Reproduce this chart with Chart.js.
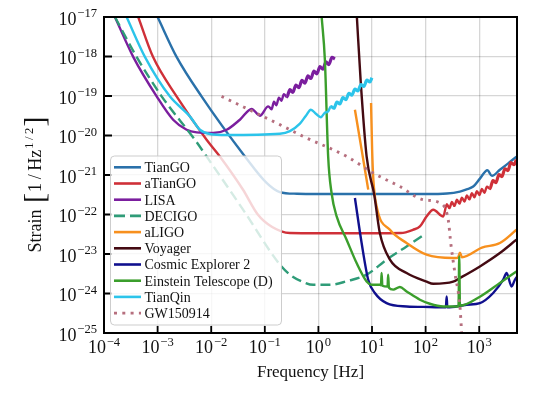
<!DOCTYPE html>
<html><head><meta charset="utf-8">
<script src="https://cdn.jsdelivr.net/npm/chart.js@4.4.0/dist/chart.umd.min.js"></script>
<style>html,body{margin:0;padding:0;background:#fff}#wrap{width:540px;height:401px}</style>
</head><body><div id="wrap"><canvas id="c" width="540" height="401"></canvas></div>
<script>
// ---------- tick values ----------
const xTickValues = [1e-4, 1e-3, 1e-2, 1e-1, 1, 10, 100, 1000];
const xTickExp = [-4, -3, -2, -1, 0, 1, 2, 3];
const yTickValues = [1e-25, 1e-24, 1e-23, 1e-22, 1e-21, 1e-20, 1e-19, 1e-18, 1e-17];
const yTickExp = [-25, -24, -23, -22, -21, -20, -19, -18, -17];

// ---------- series (frequency [Hz], strain [1/Hz^1/2]) ----------
const tianGoF = [1.0e-3, 2.26e-3, 6.6e-3, 4.26e-2, 0.108, 0.19, 0.4, 1, 10, 100, 250, 437, 582, 773, 1030, 1420, 1730, 2430, 3430, 4940];
const tianGoH = [1e-17, 9.8e-19, 9.8e-20, 2.95e-21, 6.3e-22, 3.7e-22, 3.35e-22, 3.3e-22, 3.3e-22, 3.3e-22, 3.4e-22, 3.8e-22, 4.3e-22, 5.1e-22, 8.1e-22, 1.32e-21, 9.5e-22, 1.36e-21, 1.94e-21, 2.9e-21];

const aTianGoF = [4.35e-4, 8.2e-4, 2.26e-3, 8.2e-3, 1.45e-2, 3.9e-2, 7.4e-2, 0.135, 0.294, 1, 10, 34.6, 58, 78.3, 104, 139, 213, 249, 278, 310, 344, 384, 428, 475, 530, 590, 656, 731, 813, 906, 1009, 1122, 1250, 1393, 1585, 1803, 2051, 2333, 2654, 3020, 3430, 3900, 4440, 4940];
const aTianGoH = [1e-17, 9.8e-19, 9.8e-20, 7.8e-21, 2.95e-21, 4.3e-22, 1.0e-22, 4.9e-23, 3.4e-23, 3.35e-23, 3.35e-23, 3.4e-23, 4.1e-23, 5.0e-23, 8.9e-23, 1.32e-22, 8.9e-23, 1.82e-22, 1.45e-22, 2.07e-22, 1.65e-22, 2.36e-22, 1.88e-22, 2.68e-22, 2.13e-22, 3.03e-22, 2.41e-22, 3.44e-22, 2.74e-22, 3.91e-22, 3.12e-22, 4.45e-22, 3.54e-22, 5.06e-22, 4.5e-22, 7.18e-22, 6.38e-22, 1.02e-21, 9.06e-22, 1.44e-21, 1.29e-21, 2.05e-21, 1.82e-21, 2.44e-21];

const lisaF = [1.6e-4, 3.51e-4, 9.6e-4, 1.95e-3, 3.48e-3, 5.35e-3, 1.09e-2, 1.94e-2, 3.43e-2, 5.67e-2, 8.1e-2, 0.116, 0.134, 0.148, 0.164, 0.183, 0.204, 0.227, 0.258, 0.294, 0.334, 0.380, 0.433, 0.492, 0.560, 0.637, 0.724, 0.824, 0.938, 1.067, 1.213, 1.380, 1.571, 1.787, 2.03];
const lisaH = [1e-17, 9.8e-19, 9.8e-20, 2.51e-20, 1.40e-20, 1.20e-20, 1.16e-20, 1.40e-20, 2.51e-20, 4.69e-20, 3.17e-20, 5.46e-20, 4.63e-20, 7.18e-20, 5.85e-20, 9.06e-20, 7.6e-20, 1.11e-19, 9.48e-20, 1.45e-19, 1.24e-19, 1.90e-19, 1.62e-19, 2.48e-19, 2.12e-19, 3.24e-19, 2.77e-19, 4.25e-19, 3.65e-19, 5.58e-19, 4.77e-19, 7.29e-19, 6.24e-19, 9.55e-19, 8.65e-19];

const decigoF = [1.6e-4, 4.06e-4, 1.19e-3, 4.97e-3, 8.2e-3, 3.9e-2, 0.191, 0.294, 0.5, 0.80, 1.64, 3.36, 7.94, 18.7, 44.2, 97];
const decigoH = [1e-17, 9.8e-19, 9.8e-20, 7.8e-21, 2.95e-21, 1.35e-22, 5.4e-24, 3.0e-24, 2.0e-24, 1.66e-24, 1.66e-24, 2.04e-24, 3.0e-24, 7.2e-24, 1.55e-23, 3.2e-23];

const aLigoF = [4.8, 6.4, 8.5, 9.0, 9.6, 10.05, 10.6, 12.2, 21.6, 44.2, 104, 327, 400, 437, 475, 1122, 2430, 4950];
const aLigoH = [4.5e-20, 4.4e-21, 4.25e-22, null, 6.65e-20, 4.4e-21, 7.6e-22, 1.6e-22, 4.1e-23, 1.9e-23, 9.6e-24, 7.9e-24, 8.0e-24, 1.08e-23, 8.3e-24, 1.45e-23, 1.9e-23, 4.1e-23];

const voyagerF = [5.22, 6.12, 7.93, 11.0, 14.0, 21.6, 44.2, 104, 139, 327, 437, 1030, 2430, 4950];
const voyagerH = [1e-17, 2.59e-19, 2.95e-21, 3.17e-22, 3.4e-23, 7.2e-24, 3.3e-24, 2.0e-24, 1.77e-24, 2.0e-24, 2.47e-24, 4.85e-24, 1.06e-23, 2.3e-23];

const ce2F = [4.8, 6.4, 8.5, 11.3, 18.7, 44.2, 120, 213, 239, 247, 254, 582, 1030, 1824, 2806, 3245, 4018, 4630, 5070];
const ce2H = [2.62e-22, 1.9e-23, 2.23e-24, 1.03e-24, 5.7e-25, 4.7e-25, 4.55e-25, 4.45e-25, 4.45e-25, 8.45e-25, 4.45e-25, 5.2e-25, 5.7e-25, 1.03e-24, 2.23e-24, 3.3e-24, 1.51e-24, 2.23e-24, 2.67e-24];

const etF = [1.15, 1.32, 1.52, 1.76, 2.19, 3.36, 5.16, 7.93, 9.84, 14.0, 14.7, 15.1, 15.6, 19.5, 20.0, 20.7, 24.9, 33.1, 44.2, 78.3, 120, 213, 401, 411, 424, 437, 1030, 2430, 4950];
const etH = [1e-17, 8.3e-19, 2.95e-21, 3.5e-22, 8.95e-23, 2.3e-23, 5.9e-24, 2.02e-24, 1.67e-24, 1.67e-24, 1.62e-24, 3.3e-24, 1.57e-24, 1.49e-24, 3.0e-24, 1.40e-24, 1.25e-24, 1.46e-24, 1.13e-24, 6.97e-25, 5.5e-25, 4.7e-25, 4.7e-25, 4.7e-25, 8.7e-24, 4.9e-25, 8.3e-25, 1.85e-24, 3.63e-24];

const tianQinF = [2.64e-4, 5.8e-4, 1.69e-3, 4.0e-3, 6.15e-3, 9.46e-3, 1.94e-2, 0.191, 0.294, 0.452, 0.585, 0.724, 0.898, 1.11, 1.32, 1.52, 1.71, 1.95, 2.21, 2.52, 2.86, 3.26, 3.71, 4.22, 4.80, 5.46, 6.21, 7.06, 8.03, 9.14, 9.97];
const tianQinH = [1e-17, 9.8e-19, 9.8e-20, 3.05e-20, 1.40e-20, 1.09e-20, 1.03e-20, 1.11e-20, 1.29e-20, 1.99e-20, 3.17e-20, 4.50e-20, 3.56e-20, 2.91e-20, 3.78e-20, 4.07e-20, 5.42e-20, 4.89e-20, 7.02e-20, 6.31e-20, 9.06e-20, 8.11e-20, 1.16e-19, 1.05e-19, 1.50e-19, 1.35e-19, 1.95e-19, 1.75e-19, 2.51e-19, 2.26e-19, 2.90e-19];

const gwF = [1.56e-2, 0.191, 0.52, 3.36, 10.5, 33.1, 90.2, 185, 264, 297, 352, 437, 470];
const gwH = [9.8e-20, 1.88e-20, 9.5e-21, 2.96e-21, 1.12e-21, 5.1e-22, 2.37e-22, 1.95e-22, 7.4e-23, 1.72e-23, 3.3e-24, 4.7e-25, 1e-25];

const seriesNames = ['TianGO', 'aTianGO', 'LISA', 'DECIGO', 'aLIGO', 'Voyager', 'Cosmic Explorer 2', 'Einstein Telescope (D)', 'TianQin', 'GW150914'];

// ---------- styles ----------
const series = [
  {name: seriesNames[0], f: tianGoF, h: tianGoH, color: '#2a71aa'},
  {name: seriesNames[1], f: aTianGoF, h: aTianGoH, color: '#cf3038', bandFrom: 34},
  {name: seriesNames[2], f: lisaF, h: lisaH, color: '#7b1e9e', bandFrom: 18},
  {name: seriesNames[3], f: decigoF, h: decigoH, color: '#2f9c78', dash: [10, 5], ldash: [11, 5]},
  {name: seriesNames[4], f: aLigoF, h: aLigoH, color: '#f7901e'},
  {name: seriesNames[5], f: voyagerF, h: voyagerH, color: '#440a12'},
  {name: seriesNames[6], f: ce2F, h: ce2H, color: '#10108e'},
  {name: seriesNames[7], f: etF, h: etH, color: '#3b9e2c'},
  {name: seriesNames[8], f: tianQinF, h: tianQinH, color: '#2cc4ea', bandFrom: 16},
  {name: seriesNames[9], f: gwF, h: gwH, color: '#b66f7e', dash: [2.6, 5.4], ldash: [3, 5.3], width: 2.9}
];

const FAM = '"Liberation Serif","Times New Roman",serif';

function drawPow(ctx, ax, baseY, exp, align) {
  const sup = (exp < 0 ? '\u2212' : '') + Math.abs(exp);
  ctx.font = '18px ' + FAM;
  const wb = ctx.measureText('10').width;
  ctx.font = '12.6px ' + FAM;
  const ws = ctx.measureText(sup).width;
  const tot = wb + 0.8 + ws;
  const x0 = align === 'center' ? ax - tot / 2 : ax - tot;
  ctx.font = '18px ' + FAM;
  ctx.fillText('10', x0, baseY);
  ctx.font = '12.6px ' + FAM;
  ctx.fillText(sup, x0 + wb + 0.8, baseY - 7.5);
}

const deco = {
  id: 'deco',
  afterDatasetsDraw(chart) {
    const ctx = chart.ctx, a = chart.chartArea, xs = chart.scales.x, ys = chart.scales.y;
    ctx.save();
    // frame
    ctx.strokeStyle = '#000';
    ctx.lineWidth = 2;
    ctx.strokeRect(a.left, a.top, a.right - a.left, a.bottom - a.top);
    // inward ticks
    ctx.lineWidth = 1.8;
    ctx.beginPath();
    xTickValues.forEach(v => { const p = xs.getPixelForValue(v); ctx.moveTo(p, a.bottom); ctx.lineTo(p, a.bottom - 7); });
    yTickValues.forEach(v => { const p = ys.getPixelForValue(v); ctx.moveTo(a.left, p); ctx.lineTo(a.left + 8, p); });
    ctx.stroke();
    // tick labels
    ctx.fillStyle = '#111';
    ctx.textAlign = 'left';
    ctx.textBaseline = 'alphabetic';
    xTickValues.forEach((v, i) => drawPow(ctx, xs.getPixelForValue(v), 353, xTickExp[i], 'center'));
    yTickValues.forEach((v, i) => drawPow(ctx, 97, ys.getPixelForValue(v) + 7.5, yTickExp[i], 'right'));
    // x title
    ctx.font = '17px ' + FAM;
    ctx.textAlign = 'center';
    ctx.fillText('Frequency [Hz]', (a.left + a.right) / 2, 377);
    // y title
    ctx.textAlign = 'left';
    const parts = [
      {t: 'Strain', f: '18px', dy: 0},
      {t: ' ', f: '18px', dy: 0},
      {t: '[', f: '30px', dy: 2.5},
      {t: '1\u2009/\u2009Hz', f: '18px', dy: 0},
      {t: '1\u2009/\u20092', f: '12.6px', dy: -8},
      {t: ']', f: '30px', dy: 2.5}
    ];
    let tot = 0;
    parts.forEach(p => { ctx.font = p.f + ' ' + FAM; p.w = ctx.measureText(p.t).width + 1; tot += p.w; });
    ctx.translate(41, 184);
    ctx.rotate(-Math.PI / 2);
    let cx = -tot / 2;
    parts.forEach(p => { ctx.font = p.f + ' ' + FAM; ctx.fillText(p.t, cx, p.dy); cx += p.w; });
    ctx.restore();

    // legend
    ctx.save();
    const L = {x: 110.5, y: 156, w: 171, h: 169, r: 4, row0: 167.3, dy: 16.2, h0: 114, h1: 141, tx: 144.5};
    ctx.beginPath();
    ctx.roundRect(L.x, L.y, L.w, L.h, L.r);
    ctx.fillStyle = 'rgba(255,255,255,0.8)';
    ctx.fill();
    ctx.strokeStyle = 'rgba(200,200,200,0.9)';
    ctx.lineWidth = 1;
    ctx.stroke();
    ctx.font = '14px ' + FAM;
    ctx.textAlign = 'left';
    series.forEach((s, i) => {
      const yy = L.row0 + i * L.dy;
      ctx.beginPath();
      ctx.setLineDash(s.ldash || []);
      ctx.strokeStyle = s.color;
      ctx.lineWidth = s.width || 2.6;
      ctx.lineCap = 'butt';
      ctx.moveTo(L.h0, yy);
      ctx.lineTo(L.h1, yy);
      ctx.stroke();
      ctx.setLineDash([]);
      ctx.fillStyle = '#111';
      ctx.fillText(s.name, L.tx, yy + 4.8);
    });
    ctx.restore();
  }
};

const gridStyle = {color: 'rgba(0,0,0,0.16)', lineWidth: 1.3, drawTicks: false};

new Chart(document.getElementById('c'), {
  type: 'line',
  data: {
    datasets: series.map((s, i) => ({
      label: s.name,
      data: s.f.map((f, j) => ({x: f, y: s.h[j]})),
      borderColor: s.color,
      backgroundColor: s.color,
      borderWidth: s.width || 2.4,
      borderDash: s.dash || [],
      borderCapStyle: 'butt',
      borderJoinStyle: 'round',
      pointRadius: 0,
      fill: false,
      spanGaps: false,
      cubicInterpolationMode: 'monotone',
      segment: s.bandFrom ? {borderWidth: c => (c.p0DataIndex >= s.bandFrom ? 3.2 : undefined)} : undefined,
      order: series.length - i
    }))
  },
  options: {
    responsive: false,
    animation: false,
    layout: {padding: {left: 104, right: 23, top: 17, bottom: 68}},
    plugins: {legend: {display: false}, tooltip: {enabled: false}},
    scales: {
      x: {
        type: 'logarithmic', min: 1e-4, max: 5070,
        ticks: {display: false},
        grid: gridStyle,
        border: {display: false},
        afterBuildTicks: s => { s.ticks = xTickValues.map(v => ({value: v})); }
      },
      y: {
        type: 'logarithmic', min: 1e-25, max: 1e-17,
        ticks: {display: false},
        grid: gridStyle,
        border: {display: false},
        afterBuildTicks: s => { s.ticks = yTickValues.map(v => ({value: v})); }
      }
    }
  },
  plugins: [deco]
});
</script>
</body></html>
